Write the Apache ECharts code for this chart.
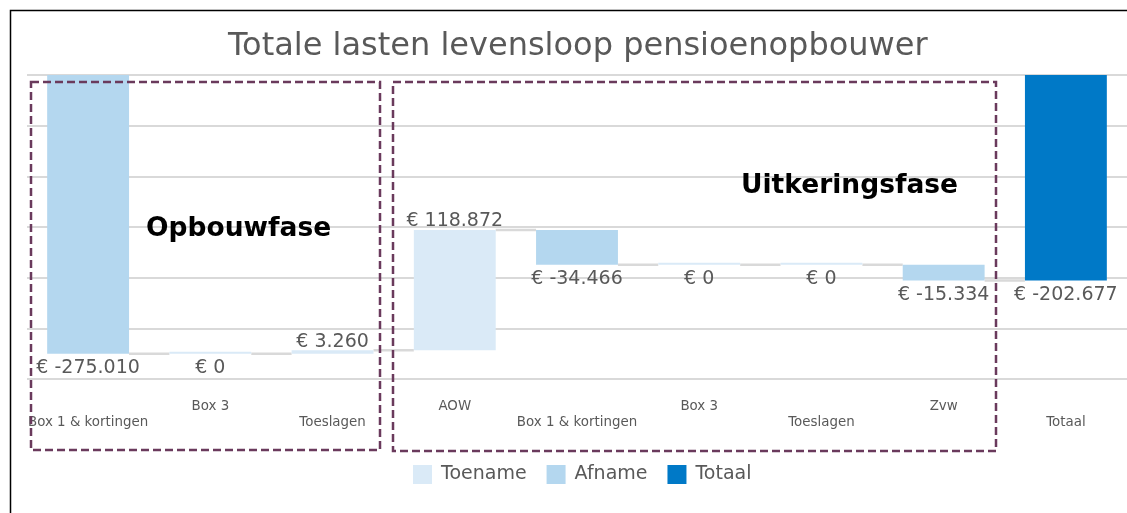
<!DOCTYPE html>
<html lang="nl">
<head>
    <meta charset="UTF-8">
    <title>Totale lasten levensloop pensioenopbouwer</title>
    <script src="https://cdn.jsdelivr.net/npm/echarts@6/dist/echarts.min.js"></script>
    <style>
        html, body { margin: 0; padding: 0; background: #fff; }
        #chart { width: 1127px; height: 513px; }
    </style>
</head>
<body>
<div id="chart"></div>
<script>

  // categorieen op de x-as
  var categories = ['Box 1 & kortingen', 'Box 3', 'Toeslagen', 'AOW', 'Box 1 & kortingen', 'Box 3', 'Toeslagen', 'Zvw', 'Totaal'];
  // mutaties per post (euro)
  var changes = [-275010, 0, 3260, 118872, -34466, 0, 0, -15334];
  var total = -202677;

  var COLORS = { up: '#daeaf7', down: '#b4d7ef', total: '#0079c7' };
  var FONT = 'DejaVu Sans, Verdana, sans-serif';

  function euro(v) {
    var s = String(Math.abs(v)).replace(/\B(?=(\d{3})+(?!\d))/g, '.');
    return '€ ' + (v < 0 ? '-' : '') + s;
  }

  // waterval opbouwen: onzichtbare basis + zichtbaar deel
  var base = [], upData = [], downData = [], totalData = [], levels = [];
  var run = 0;
  changes.forEach(function (c, i) {
    var start = run;
    var end = run + c;
    base.push(Math.max(start, end));
    if (c > 0) {
      upData.push(-c); downData.push('-');
    } else if (c < 0) {
      upData.push('-'); downData.push(c);
    } else {
      upData.push({ value: 0, label: { position: 'bottom', distance: 5 } }); downData.push('-');
    }
    totalData.push('-');
    levels.push([i, end]);
    run = end;
  });
  base.push(0);
  upData.push('-');
  downData.push('-');
  totalData.push(total);

  var allValues = changes.concat([total]);
  var labelFmt = function (p) { return euro(allValues[p.dataIndex]); };
  var labelStyle = { show: true, color: '#595959', fontSize: 19, fontFamily: FONT, formatter: labelFmt };

  var myChart = echarts.init(document.getElementById('chart'));

  myChart.setOption({
    animation: false,
    title  : {
      text     : 'Totale lasten levensloop pensioenopbouwer',
      left     : 223,
      top      : 26,
      textStyle: { color: '#595959', fontSize: 32, fontWeight: 'normal', fontFamily: FONT }
    },
    legend : {
      data      : ['Toename', 'Afname', 'Totaal'],
      left      : 408,
      top       : 460,
      icon      : 'rect',
      itemWidth : 19,
      itemHeight: 19,
      itemGap   : 20,
      textStyle : { color: '#595959', fontSize: 19, fontFamily: FONT, padding: [0, 0, 0, 4] }
    },
    grid   : { left: 27, right: 0, top: 75, bottom: 134 },
    xAxis  : {
      type     : 'category',
      data     : categories,
      axisLine : { show: false },
      axisTick : { show: false },
      axisLabel: {
        interval  : 0,
        margin    : 20,
        color     : '#595959',
        fontSize  : 13.4,
        lineHeight: 16,
        fontFamily: FONT,
        formatter : function (v, i) { return i % 2 === 0 ? '\n' + v : v; }
      }
    },
    yAxis  : {
      type     : 'value',
      min      : -300000,
      max      : 0,
      interval : 50000,
      axisLabel: { show: false },
      axisLine : { show: false },
      axisTick : { show: false },
      splitLine: { lineStyle: { color: '#d9d9d9', width: 2 } }
    },
    series : [
      {
        name     : 'verbinding',
        type     : 'custom',
        z        : 1,
        silent   : true,
        data     : levels,
        renderItem: function (params, api) {
          var p0 = api.coord([api.value(0), api.value(1)]);
          var p1 = api.coord([api.value(0) + 1, api.value(1)]);
          var bw = api.size([1, 0])[0] * 0.67;
          return {
            type : 'line',
            shape: { x1: p0[0] + bw / 2, y1: p0[1], x2: p1[0] - bw / 2, y2: p1[1] },
            style: { stroke: '#d9d9d9', lineWidth: 2.5 }
          };
        }
      },
      {
        name     : 'basis',
        type     : 'bar',
        stack    : 'w',
        barWidth : '67%',
        silent   : true,
        itemStyle: { color: 'transparent' },
        data     : base
      },
      {
        name        : 'Toename',
        type        : 'bar',
        stack       : 'w',
        barMinHeight: 2,
        itemStyle   : { color: COLORS.up },
        label       : Object.assign({ position: 'top', distance: -1 }, labelStyle),
        data        : upData
      },
      {
        name     : 'Afname',
        type     : 'bar',
        stack    : 'w',
        itemStyle: { color: COLORS.down },
        label    : Object.assign({ position: 'bottom', distance: 5 }, labelStyle),
        data     : downData
      },
      {
        name     : 'Totaal',
        type     : 'bar',
        stack    : 'w',
        itemStyle: { color: COLORS.total },
        label    : Object.assign({ position: 'bottom', distance: 5 }, labelStyle),
        data     : totalData
      }
    ],
    graphic: [
      {
        type : 'rect',
        shape: { x: 10.5, y: 10.5, width: 1200, height: 600 },
        style: { fill: 'none', stroke: '#000', lineWidth: 1.5 },
        silent: true
      },
      {
        type : 'rect',
        shape: { x: 31, y: 82, width: 349, height: 368 },
        style: { fill: 'none', stroke: '#6a3a5c', lineWidth: 2.5, lineDash: [8, 4] },
        z    : 100
      },
      {
        type : 'rect',
        shape: { x: 393, y: 82, width: 603, height: 369 },
        style: { fill: 'none', stroke: '#6a3a5c', lineWidth: 2.5, lineDash: [8, 4] },
        z    : 100
      },
      {
        type : 'text',
        left : 146,
        top  : 216,
        style: { text: 'Opbouwfase', fill: '#000', font: 'bold 26.5px ' + FONT },
        z    : 100
      },
      {
        type : 'text',
        left : 741,
        top  : 173,
        style: { text: 'Uitkeringsfase', fill: '#000', font: 'bold 26.5px ' + FONT },
        z    : 100
      }
    ]
  });
</script>
</body>
</html>
